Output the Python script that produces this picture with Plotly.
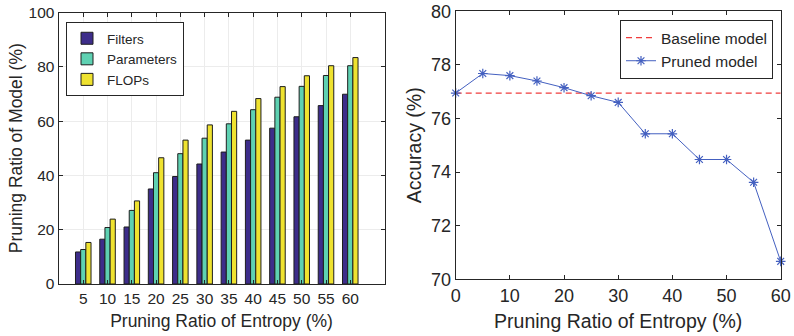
import plotly.graph_objects as go

# ---- data: left chart (bars) ----
entropy_ratio = [5, 10, 15, 20, 25, 30, 35, 40, 45, 50, 55, 60]
filters = [11.8, 16.5, 21.0, 35.0, 39.6, 44.2, 48.6, 53.0, 57.4, 61.6, 65.7, 69.9]
parameters = [12.7, 20.8, 27.1, 41.0, 48.0, 53.7, 59.0, 64.2, 68.8, 72.8, 76.8, 80.4]
flops = [15.3, 23.9, 30.6, 46.5, 53.0, 58.6, 63.6, 68.3, 72.7, 76.7, 80.4, 83.4]

# ---- data: right chart (lines) ----
acc_ratio = [0, 5, 10, 15, 20, 25, 30, 35, 40, 45, 50, 55, 60]
pruned_acc = [76.95, 77.68, 77.6, 77.4, 77.15, 76.85, 76.6, 75.43, 75.43, 74.47, 74.47, 73.62, 70.67]
baseline_acc = 76.95

AX = "#262626"
FONT = "Liberation Sans, Arial, sans-serif"

W, H = 794, 336

fig = go.Figure()
bar_specs = [("Filters", filters, "#3d2d8a"),
             ("Parameters", parameters, "#5ed1b2"),
             ("FLOPs", flops, "#efe22f")]
for name, vals, col in bar_specs:
    fig.add_trace(go.Bar(x=entropy_ratio, y=vals, name=name, xaxis="x", yaxis="y",
                         marker=dict(color=col, line=dict(color="#1e1e1e", width=1)),
                         legend="legend"))

fig.add_trace(go.Scatter(x=[acc_ratio[0], acc_ratio[-1]], y=[baseline_acc, baseline_acc],
                         mode="lines", name="Baseline model", xaxis="x2", yaxis="y2",
                         line=dict(color="#f03c3c", width=1.2, dash="6px,4px"),
                         legend="legend2"))
fig.add_trace(go.Scatter(x=acc_ratio, y=pruned_acc, mode="lines+markers", name="Pruned model",
                         xaxis="x2", yaxis="y2",
                         line=dict(color="#4460c0", width=1),
                         marker=dict(symbol="asterisk-open", size=8,
                                     line=dict(color="#4460c0", width=1.2)),
                         cliponaxis=False, legend="legend2"))

common = dict(showline=True, linecolor=AX, linewidth=1, mirror="allticks",
              ticks="inside", ticklen=4, tickcolor=AX, zeroline=False, automargin=False)

fig.update_layout(
    width=W, height=H,
    margin=dict(l=0, r=0, t=0, b=0, autoexpand=False),
    paper_bgcolor="white", plot_bgcolor="white",
    font=dict(family=FONT, color=AX),
    barmode="group", bargap=0.36, bargroupgap=0,
    xaxis=dict(domain=[58.5 / W, 384.5 / W], range=[-0.1, 67.05], tickvals=entropy_ratio,
               tickfont=dict(size=15.5), showgrid=True, gridcolor="#ececec",
               title=dict(text="Pruning Ratio of Entropy (%)", font=dict(size=17.5), standoff=9),
               anchor="y", **common),
    yaxis=dict(domain=[(H - 284) / H, (H - 12.5) / H], range=[0, 100], dtick=20,
               tickfont=dict(size=15.5), showgrid=True, gridcolor="#ececec",
               title=dict(text="Pruning Ratio of Model (%)", font=dict(size=17.5), standoff=1),
               anchor="x", **common),
    xaxis2=dict(domain=[455.7 / W, 780.7 / W], range=[0, 60], dtick=10,
                tickfont=dict(size=18), showgrid=False,
                title=dict(text="Pruning Ratio of Entropy (%)", font=dict(size=19.5), standoff=9),
                anchor="y2", **common),
    yaxis2=dict(domain=[(H - 279.3) / H, (H - 11.3) / H], range=[70, 80], dtick=2,
                tickfont=dict(size=18), showgrid=False,
                title=dict(text="Accuracy (%)", font=dict(size=19.5), standoff=4),
                anchor="x2", **common),
    legend=dict(x=66 / W, y=(H - 22) / H, xanchor="left", yanchor="top",
                bordercolor=AX, borderwidth=1, bgcolor="white",
                font=dict(size=13.5), tracegroupgap=0, itemwidth=30),
    legend2=dict(x=773 / W, y=(H - 20) / H, xanchor="right", yanchor="top",
                 bordercolor=AX, borderwidth=1, bgcolor="white",
                 font=dict(size=15.5), tracegroupgap=0, itemwidth=30),
    showlegend=True,
)

# remove the browser's default 8px body margin so the figure fills the window exactly
fig.write_html("out.html",
               config={"displayModeBar": False},
               post_script="document.body.style.margin='0';document.body.style.overflow='hidden';")
